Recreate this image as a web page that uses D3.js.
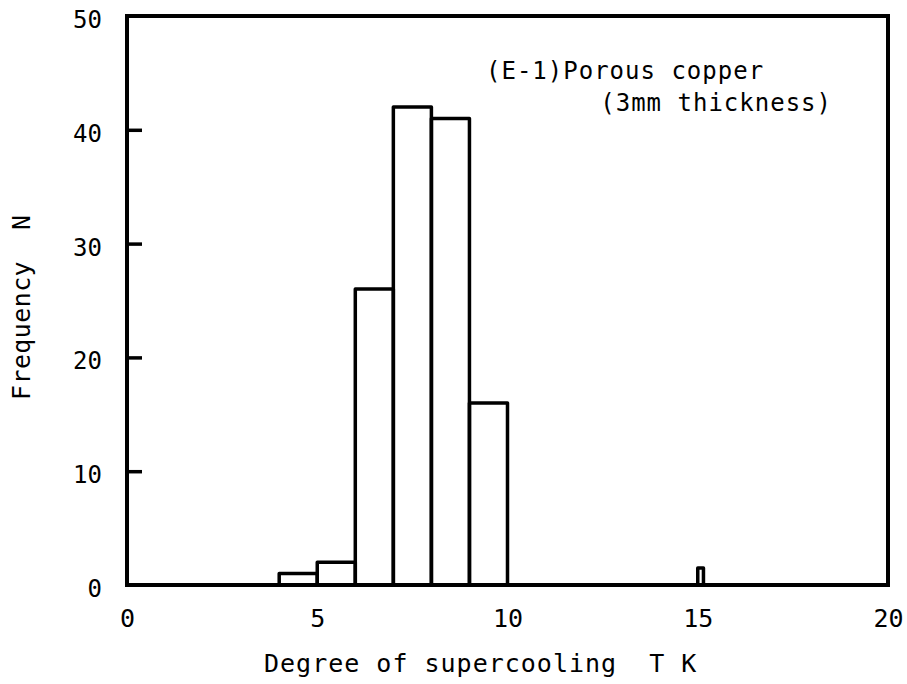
<!DOCTYPE html>
<html>
<head>
<meta charset="utf-8">
<script src="https://cdn.jsdelivr.net/npm/d3@7"></script>
<style>
  body { margin: 0; background: #fff; }
  text { font-family: 'DejaVu Sans Mono', 'Liberation Mono', monospace; fill: #000; }
</style>
</head>
<body>
<svg id="chart" width="907" height="684"></svg>
<script>
// histogram bins (degree of supercooling, K) and counts
const binStart = [4, 5, 6, 7, 8, 9, 15];
const binEnd = [5, 6, 7, 8, 9, 10, 15.15];
const counts = [1, 2, 26, 42, 41, 16, 1.5];
const xTicks = [0, 5, 10, 15, 20];
const yTicks = [0, 10, 20, 30, 40, 50];

const bins = binStart.map((s, i) => ({ x0: s, x1: binEnd[i], n: counts[i] }));

const svg = d3.select('#chart');
const width = 907;
const height = 684;
const margin = { top: 16, right: 19, bottom: 99, left: 127 };
const innerWidth = width - margin.left - margin.right;
const innerHeight = height - margin.top - margin.bottom;

const x = d3.scaleLinear().domain([0, 20]).range([0, innerWidth]);
const y = d3.scaleLinear().domain([0, 50]).range([innerHeight, 0]);

const g = svg.append('g').attr('transform', `translate(${margin.left},${margin.top})`);

// bars
g.selectAll('.bar')
  .data(bins)
  .enter()
  .append('rect')
  .attr('class', 'bar')
  .attr('x', (d) => x(d.x0))
  .attr('y', (d) => y(d.n))
  .attr('width', (d) => x(d.x1) - x(d.x0))
  .attr('height', (d) => y(0) - y(d.n))
  .attr('fill', 'none')
  .attr('stroke', '#000')
  .attr('stroke-width', 3.5)
  .attr('stroke-linejoin', 'round');

// y axis: inward ticks, labels on the left
const yAxis = d3.axisLeft(y).tickValues(yTicks).tickSize(-15).tickPadding(25).tickFormat(d3.format('d'));
g.append('g')
  .attr('class', 'y-axis')
  .call(yAxis)
  .call((a) => a.select('.domain').remove())
  .call((a) => a.selectAll('line').attr('stroke-width', 3.5).filter((d) => d === 0 || d === 50).remove())
  .call((a) => a.selectAll('text')
    .attr('font-family', "'DejaVu Sans Mono', monospace")
    .attr('font-size', '24px')
    .attr('dy', '0.48em'));

// x axis labels only
const xAxis = d3.axisBottom(x).tickValues(xTicks).tickSize(0).tickPadding(24);
g.append('g')
  .attr('class', 'x-axis')
  .attr('transform', `translate(0,${innerHeight})`)
  .call(xAxis)
  .call((a) => a.select('.domain').remove())
  .call((a) => a.selectAll('text')
    .attr('font-family', "'DejaVu Sans Mono', monospace")
    .attr('font-size', '25px')
    .attr('dy', '0.71em'));

// frame
g.append('rect')
  .attr('width', innerWidth)
  .attr('height', innerHeight)
  .attr('fill', 'none')
  .attr('stroke', '#000')
  .attr('stroke-width', 4);

// axis titles
svg.append('text')
  .attr('x', 264)
  .attr('y', 672)
  .attr('font-size', '25px')
  .attr('letter-spacing', '1px')
  .attr('xml:space', 'preserve')
  .text('Degree of supercooling  T K');

svg.append('text')
  .attr('transform', 'translate(30,400) rotate(-90)')
  .attr('font-size', '25px')
  .attr('letter-spacing', '0.4px')
  .attr('xml:space', 'preserve')
  .text('Frequency  N');

// annotation
svg.append('text')
  .attr('x', 486)
  .attr('y', 79)
  .attr('font-size', '24px')
  .attr('letter-spacing', '1px')
  .text('(E-1)Porous copper');

svg.append('text')
  .attr('x', 832)
  .attr('y', 111)
  .attr('text-anchor', 'end')
  .attr('font-size', '24px')
  .attr('letter-spacing', '1px')
  .text('(3mm thickness)');
</script>
</body>
</html>
